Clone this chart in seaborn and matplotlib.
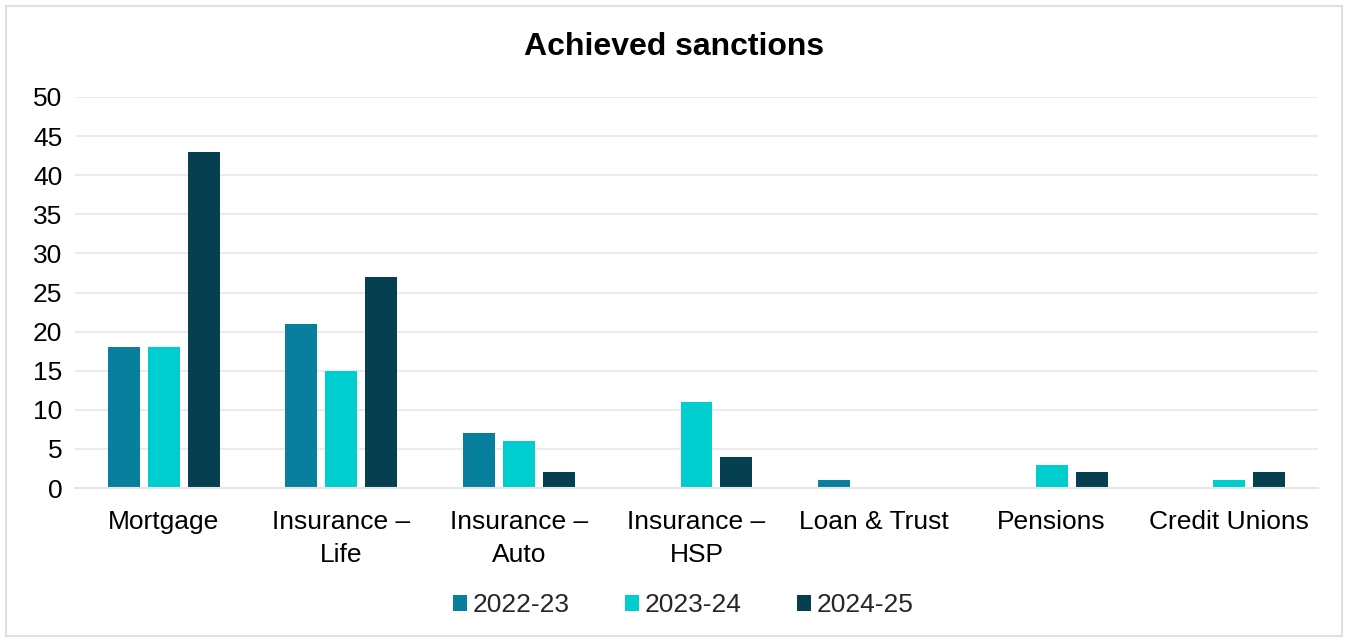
import matplotlib
matplotlib.use("Agg")
import matplotlib.pyplot as plt
import seaborn as sns
import pandas as pd
from matplotlib.patches import Rectangle

categories = ["Mortgage", "Insurance –\nLife", "Insurance –\nAuto", "Insurance –\nHSP",
              "Loan & Trust", "Pensions", "Credit Unions"]
years = ["2022-23", "2023-24", "2024-25"]
v_2022_23 = [18, 21, 7, 0, 1, 0, 0]
v_2023_24 = [18, 15, 6, 11, 0, 3, 1]
v_2024_25 = [43, 27, 2, 4, 0, 2, 2]
colors = ["#087F9D", "#00CDCD", "#063F4F"]

rows = []
for yr, vals in zip(years, [v_2022_23, v_2023_24, v_2024_25]):
    for c, v in zip(categories, vals):
        rows.append({"category": c, "year": yr, "value": v})
df = pd.DataFrame(rows)

sns.set_theme(style="white")
plt.rcParams['font.family'] = ['Liberation Sans', 'DejaVu Sans']

fig = plt.figure(figsize=(13.48, 6.42), dpi=100)
ax = fig.add_axes([75/1348, 1-488/642, (1318-75)/1348, (488-97)/642])

sns.barplot(data=df, x="category", y="value", hue="year", palette=colors,
            order=categories, hue_order=years, width=0.675, gap=0.2,
            saturation=1, ax=ax, errorbar=None, linewidth=0, edgecolor="none")

ax.set_ylim(0, 50)
ax.set_yticks(range(0, 51, 5))
ax.set_xlim(-0.5, 6.5)
ax.grid(axis="y", color="#EBEBEB", linewidth=1.5)
ax.set_axisbelow(True)
for s in ["top", "right", "left"]:
    ax.spines[s].set_visible(False)
ax.spines["bottom"].set_color("#E6E6E6")
ax.spines["bottom"].set_linewidth(1.5)
ax.tick_params(axis="both", length=0, labelsize=19, colors="#000000")
ax.tick_params(axis="x", pad=16)
ax.tick_params(axis="y", pad=9)
for lbl in ax.get_xticklabels():
    lbl.set_linespacing(1.45)
ax.set_xlabel("")
ax.set_ylabel("")

fig.text(0.5, 1-47/642, "Achieved sanctions", ha="center", va="center",
         fontsize=23, fontweight="bold", color="#000000")

handles, labels = ax.get_legend_handles_labels()
ax.legend_.remove()
fig.legend(handles, labels, loc="center", bbox_to_anchor=(0.5 + 9/1348, 1-605/642), ncol=3,
           frameon=False, fontsize=19, handlelength=0.55, handleheight=0.55,
           handletextpad=0.2, columnspacing=2.1)

fig.patches.append(Rectangle((6/1348, 6/642), 1336/1348, 630/642, transform=fig.transFigure,
                             fill=False, edgecolor="#E0E0E0", linewidth=1.5))

fig.savefig("out.png", dpi=100, facecolor="white")
